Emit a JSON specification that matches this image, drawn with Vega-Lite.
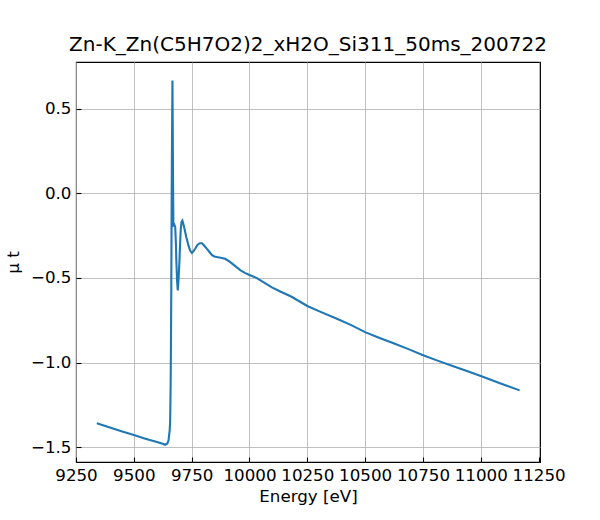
{
  "$schema": "https://vega.github.io/schema/vega-lite/v6.json",
  "autosize": "none",
  "width": 464,
  "height": 400,
  "padding": {"left": 76, "top": 62, "right": 60, "bottom": 58},
  "background": "white",
  "config": {
    "font": "DejaVu Sans",
    "view": {"stroke": "black", "strokeWidth": 1.1},
    "axis": {
      "labelFont": "DejaVu Sans",
      "titleFont": "DejaVu Sans",
      "labelFontSize": 16.7,
      "titleFontSize": 16.7,
      "titleFontWeight": "normal",
      "labelColor": "black",
      "titleColor": "black",
      "gridColor": "#b0b0b0",
      "gridWidth": 0.8,
      "gridOpacity": 1,
      "domain": false,
      "tickColor": "black",
      "tickWidth": 1.1,
      "tickSize": -5,
      "labelPadding": 10,
      "labelOverlap": false,
      "labelFlush": false
    },
    "title": {"font": "DejaVu Sans", "fontSize": 20, "fontWeight": "normal", "color": "black", "offset": 7}
  },
  "title": "Zn-K_Zn(C5H7O2)2_xH2O_Si311_50ms_200722",
  "data": {
    "values": [
      {"e": 9340, "mu": -1.358},
      {"e": 9400, "mu": -1.385},
      {"e": 9450, "mu": -1.407},
      {"e": 9500, "mu": -1.428},
      {"e": 9550, "mu": -1.449},
      {"e": 9600, "mu": -1.469},
      {"e": 9625, "mu": -1.479},
      {"e": 9635, "mu": -1.485},
      {"e": 9645, "mu": -1.478},
      {"e": 9650, "mu": -1.459},
      {"e": 9655, "mu": -1.40},
      {"e": 9657, "mu": -1.35},
      {"e": 9659, "mu": -1.15},
      {"e": 9660, "mu": -0.997},
      {"e": 9662, "mu": -0.55},
      {"e": 9663, "mu": -0.21},
      {"e": 9665, "mu": 0.30},
      {"e": 9667, "mu": 0.665},
      {"e": 9668, "mu": 0.45},
      {"e": 9670, "mu": -0.013},
      {"e": 9671, "mu": -0.19},
      {"e": 9675, "mu": -0.185},
      {"e": 9679, "mu": -0.20},
      {"e": 9682, "mu": -0.30},
      {"e": 9684, "mu": -0.407},
      {"e": 9687, "mu": -0.52},
      {"e": 9690, "mu": -0.574},
      {"e": 9693, "mu": -0.52},
      {"e": 9697, "mu": -0.407},
      {"e": 9700, "mu": -0.30},
      {"e": 9703, "mu": -0.21},
      {"e": 9706, "mu": -0.17},
      {"e": 9710, "mu": -0.161},
      {"e": 9714, "mu": -0.18},
      {"e": 9719, "mu": -0.21},
      {"e": 9727, "mu": -0.26},
      {"e": 9736, "mu": -0.308},
      {"e": 9744, "mu": -0.340},
      {"e": 9751, "mu": -0.352},
      {"e": 9758, "mu": -0.342},
      {"e": 9765, "mu": -0.328},
      {"e": 9775, "mu": -0.305},
      {"e": 9785, "mu": -0.295},
      {"e": 9794, "mu": -0.295},
      {"e": 9805, "mu": -0.310},
      {"e": 9816, "mu": -0.328},
      {"e": 9827, "mu": -0.347},
      {"e": 9837, "mu": -0.364},
      {"e": 9848, "mu": -0.373},
      {"e": 9859, "mu": -0.377},
      {"e": 9875, "mu": -0.381},
      {"e": 9895, "mu": -0.387},
      {"e": 9917, "mu": -0.407},
      {"e": 9940, "mu": -0.432},
      {"e": 9960, "mu": -0.454},
      {"e": 9980, "mu": -0.470},
      {"e": 10000, "mu": -0.483},
      {"e": 10032, "mu": -0.501},
      {"e": 10060, "mu": -0.525},
      {"e": 10097, "mu": -0.556},
      {"e": 10133, "mu": -0.580},
      {"e": 10180, "mu": -0.610},
      {"e": 10250, "mu": -0.666},
      {"e": 10300, "mu": -0.696},
      {"e": 10378, "mu": -0.741},
      {"e": 10440, "mu": -0.779},
      {"e": 10500, "mu": -0.820},
      {"e": 10560, "mu": -0.853},
      {"e": 10623, "mu": -0.886},
      {"e": 10690, "mu": -0.922},
      {"e": 10748, "mu": -0.955},
      {"e": 10810, "mu": -0.987},
      {"e": 10875, "mu": -1.019},
      {"e": 10940, "mu": -1.050},
      {"e": 11000, "mu": -1.079},
      {"e": 11080, "mu": -1.121},
      {"e": 11168, "mu": -1.164}
    ]
  },
  "mark": {"type": "line", "color": "#1f77b4", "strokeWidth": 2.1, "clip": true},
  "encoding": {
    "x": {
      "field": "e",
      "type": "quantitative",
      "title": "Energy [eV]",
      "scale": {"domain": [9250, 11256], "nice": false, "zero": false},
      "axis": {"values": [9250, 9500, 9750, 10000, 10250, 10500, 10750, 11000, 11250], "format": "d", "titlePadding": 5}
    },
    "y": {
      "field": "mu",
      "type": "quantitative",
      "title": "μ t",
      "scale": {"domain": [-1.587, 0.775], "nice": false, "zero": false},
      "axis": {"values": [-1.5, -1, -0.5, 0, 0.5], "labelExpr": "replace(format(datum.value, '.1f'), '-', '−')", "titlePadding": 8}
    }
  }
}
